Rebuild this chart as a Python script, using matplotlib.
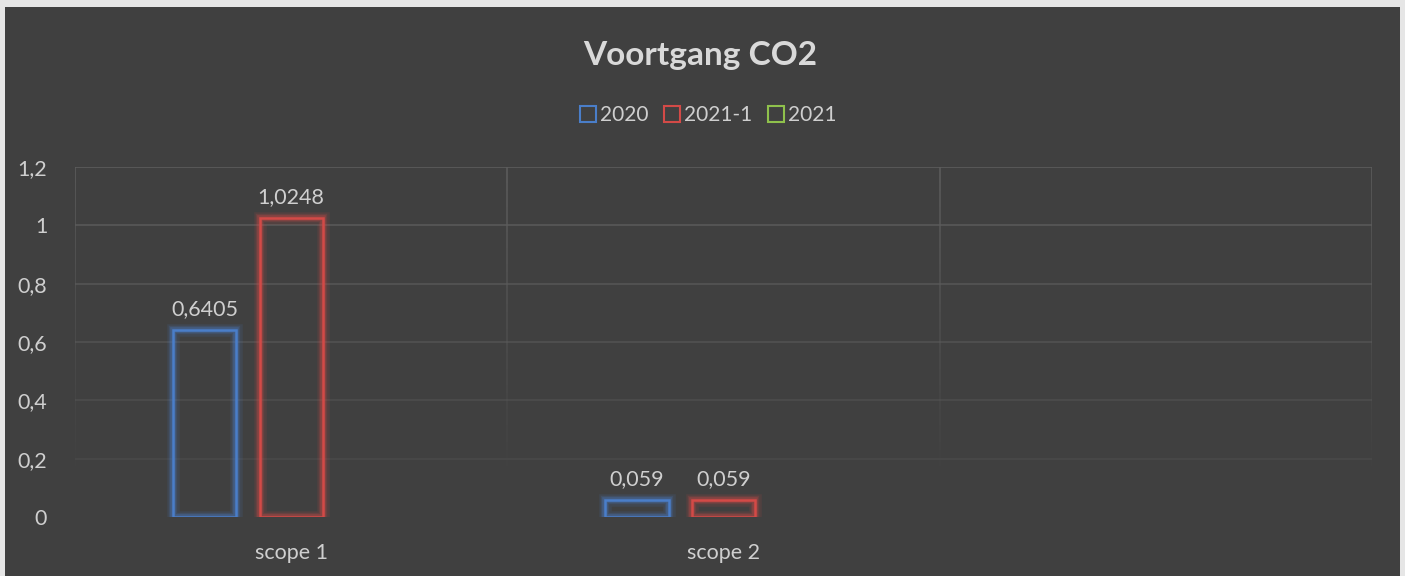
import numpy as np
import matplotlib.pyplot as plt
import matplotlib.patheffects as pe
from matplotlib.lines import Line2D

# data
categories = ['scope 1', 'scope 2', '']
series = ['2020', '2021-1', '2021']
values = {
    '2020': [0.6405, 0.059, None],
    '2021-1': [1.0248, 0.059, None],
    '2021': [None, None, None],
}
colors = {'2020': '#4a7ec9', '2021-1': '#d34a47', '2021': '#8fc14c'}
yticks = [0, 0.2, 0.4, 0.6, 0.8, 1.0, 1.2]

bg = '#404040'
txt = '#cfcfcf'
fs = 15.5
plt.rcParams['font.family'] = ['Lato', 'DejaVu Sans']

fig = plt.figure(figsize=(14.05, 5.76), dpi=100, facecolor='#e6e6e6')
# dark chart area
fig.patches.append(plt.Rectangle((5 / 1405, 0), 1395 / 1405, 569 / 576, transform=fig.transFigure,
                                 facecolor=bg, edgecolor='none', zorder=-5))

ax = fig.add_axes([75 / 1405, 59 / 576, 1297 / 1405, 350 / 576])
ax.set_zorder(2)
ax.set_facecolor('none')
ax.set_xlim(-0.5, len(categories) - 0.5)
ax.set_ylim(0, 1.2)
for s in ax.spines.values():
    s.set_visible(False)

# fading gridlines
for y in yticks[1:]:
    a = 0.2 + 0.8 * (y / 1.2)
    ax.axhline(y, color='#5c5c5c', lw=1.2, alpha=a, zorder=1)
ys = np.linspace(0.12, 1.2, 40)
for xv in np.arange(-0.5, len(categories), 1.0):
    for y0, y1 in zip(ys[:-1], ys[1:]):
        a = (y0 - 0.12) / 1.08
        ax.plot([xv, xv], [y0, y1], color='#5c5c5c', lw=1.2, alpha=a, solid_capstyle='butt', zorder=1)

width = 0.146
step = 0.2
for i, name in enumerate(series):
    offset = (i - 1) * step
    for j, v in enumerate(values[name]):
        if v is None:
            continue
        glow = [pe.Stroke(linewidth=9, foreground=colors[name], alpha=0.12),
                pe.Stroke(linewidth=6, foreground=colors[name], alpha=0.18),
                pe.Stroke(linewidth=4, foreground=colors[name], alpha=0.3),
                pe.Normal()]
        ax.bar(j + offset, v, width=width, facecolor='none', edgecolor=colors[name],
               linewidth=1.8, path_effects=glow, zorder=3)
        ax.annotate(f'{v:g}'.replace('.', ','), (j + offset, v), xytext=(0, 8),
                    textcoords='offset points', ha='center', va='bottom',
                    color=txt, fontsize=fs)

ax.set_yticks(yticks)
ax.set_yticklabels([f'{t:g}'.replace('.', ',') for t in yticks])
ax.set_xticks(range(len(categories)))
ax.set_xticklabels(categories)
ax.tick_params(axis='y', length=0, pad=20, colors=txt, labelsize=fs)
ax.tick_params(axis='x', length=0, pad=19, colors=txt, labelsize=fs)

fig.text(700 / 1405, 1 - 55 / 576, 'Voortgang CO2', ha='center', va='center',
         color='#d9d9d9', fontsize=24, fontweight='bold')

handles = [Line2D([], [], marker='s', linestyle='none', markersize=11, markerfacecolor='none',
                  markeredgecolor=colors[n], markeredgewidth=1.5) for n in series]
leg = fig.legend(handles, series, loc='center', bbox_to_anchor=(707 / 1405, 1 - 115 / 576),
                 ncol=3, frameon=False, fontsize=15, handletextpad=0.1, columnspacing=0.6,
                 handlelength=1.0)
for t in leg.get_texts():
    t.set_color(txt)

fig.savefig('out.png', dpi=100, facecolor=fig.get_facecolor())
